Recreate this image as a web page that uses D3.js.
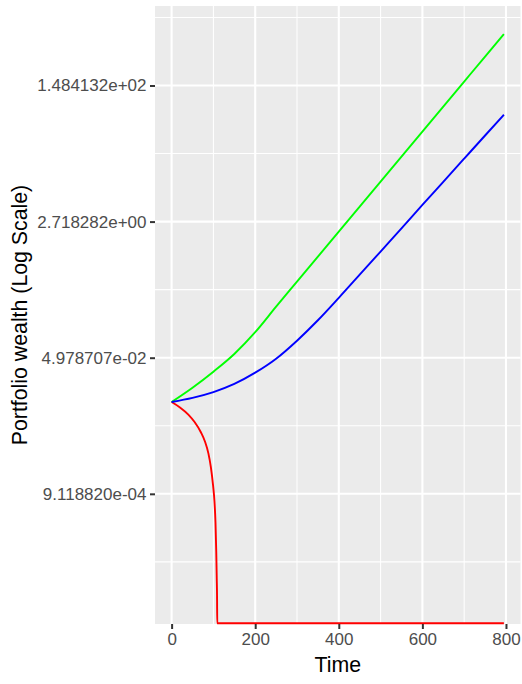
<!DOCTYPE html>
<html><head><meta charset="utf-8">
<script src="https://cdn.jsdelivr.net/npm/d3@7"></script>
<style>body{margin:0;background:#fff}text{font-family:"Liberation Sans",Arial,sans-serif}</style>
</head><body><svg id="c" width="522" height="684"></svg>
<script>
// ---- data ----
const greenTime   = [0, 50, 100, 150, 200, 250, 300, 350, 400, 450, 500, 550, 600, 650, 700, 750, 795];
const greenWealth = [0.013569, 0.020651, 0.033041, 0.055576, 0.10540, 0.22313, 0.46533, 0.97045, 2.02385, 4.22070, 8.80222, 18.3568, 38.2828, 79.838, 166.50, 347.24, 671.83];

const blueTime   = [0, 50, 100, 150, 200, 250, 300, 350, 400, 450, 500, 550, 600, 650, 700, 750, 795];
const blueWealth = [0.013569, 0.015299, 0.018134, 0.023052, 0.032065, 0.048316, 0.082085, 0.14957, 0.28938, 0.57121, 1.12750, 2.22554, 4.43710, 8.7583, 17.288, 34.124, 62.803];

const redTime   = [0, 20, 40, 55, 70, 80, 88, 94, 99, 102.5, 105, 106.8, 108, 108.7, 109.2, 795];
const redWealth = [0.013569, 0.011562, 0.0093725, 0.0075216, 0.0055720, 0.0042112, 0.0029975, 0.0019893, 0.0011945, 0.00073181, 0.00038975, 0.00016659, 0.000074852, 0.0000454, 0, 0];

const xTicks = [0, 200, 400, 600, 800];
const xMinor = [100, 300, 500, 700];
const yTicks = [9.118820e-04, 4.978707e-02, 2.718282e+00, 1.484132e+02];
const yTickLabels = ["9.118820e-04", "4.978707e-02", "2.718282e+00", "1.484132e+02"];
const yMinor = [1.234098e-04, 6.737947e-03, 3.678794e-01, 2.008554e+01, 1.096633e+03];

const xTitle = "Time";
const yTitle = "Portfolio wealth (Log Scale)";

const series = [
  {name: "red",   time: redTime,   wealth: redWealth,   color: "#FF0000"},
  {name: "green", time: greenTime, wealth: greenWealth, color: "#00FF00"},
  {name: "blue",  time: blueTime,  wealth: blueWealth,  color: "#0000FF"}
];

// ---- layout ----
const P = {left: 155, right: 520.5, top: 6, bottom: 624};
const svg = d3.select("#c");

const allT = series.flatMap(s => s.time);
const allW = series.flatMap(s => s.wealth).filter(v => v > 0);
const tMin = d3.min(allT), tMax = d3.max(allT), tPad = 0.05 * (tMax - tMin);
const lwMin = Math.log(d3.min(allW)), lwMax = Math.log(d3.max(allW)), lwPad = 0.05 * (lwMax - lwMin);

const x = d3.scaleLinear().domain([tMin - tPad, tMax + tPad]).range([P.left, P.right]);
const y = d3.scaleLog().base(Math.E).domain([Math.exp(lwMin - lwPad), Math.exp(lwMax + lwPad)]).range([P.bottom, P.top]);

// panel
svg.append("rect").attr("x", P.left).attr("y", P.top)
  .attr("width", P.right - P.left).attr("height", P.bottom - P.top).attr("fill", "#EBEBEB");

const grid = svg.append("g");
grid.selectAll(".ym").data(yMinor.filter(v => y(v) >= P.top && y(v) <= P.bottom)).join("line")
  .attr("x1", P.left).attr("x2", P.right).attr("y1", d => y(d)).attr("y2", d => y(d))
  .attr("stroke", "#fff").attr("stroke-width", 1.05);
grid.selectAll(".xm").data(xMinor).join("line")
  .attr("y1", P.top).attr("y2", P.bottom).attr("x1", d => x(d)).attr("x2", d => x(d))
  .attr("stroke", "#fff").attr("stroke-width", 1.05);
grid.selectAll(".yM").data(yTicks).join("line")
  .attr("x1", P.left).attr("x2", P.right).attr("y1", d => y(d)).attr("y2", d => y(d))
  .attr("stroke", "#fff").attr("stroke-width", 2.1);
grid.selectAll(".xM").data(xTicks).join("line")
  .attr("y1", P.top).attr("y2", P.bottom).attr("x1", d => x(d)).attr("x2", d => x(d))
  .attr("stroke", "#fff").attr("stroke-width", 2.1);

// lines
const yv = v => v > 0 ? y(v) : P.bottom - 0.7;   // zero wealth (-Inf on log scale) squished to panel edge
const line = d3.line().x(d => x(d[0])).y(d => yv(d[1])).curve(d3.curveMonotoneX);
const lg = svg.append("g");
series.forEach(s => {
  lg.append("path").datum(s.time.map((t, i) => [t, s.wealth[i]]))
    .attr("d", line).attr("fill", "none").attr("stroke", s.color)
    .attr("stroke-width", 1.9).attr("stroke-linejoin", "round");
});

// axes
const yAxis = d3.axisLeft(y).tickValues(yTicks).tickFormat((d, i) => yTickLabels[i]).tickSize(5).tickPadding(3.5);
const gy = svg.append("g").attr("transform", `translate(${P.left},0)`).call(yAxis);
const xAxis = d3.axisBottom(x).tickValues(xTicks).tickFormat(d3.format("d")).tickSize(5).tickPadding(4);
const gx = svg.append("g").attr("transform", `translate(0,${P.bottom})`).call(xAxis);
[gx, gy].forEach(g => {
  g.select(".domain").remove();
  g.selectAll(".tick line").attr("stroke", "#333333").attr("stroke-width", 2);
  g.selectAll(".tick text").attr("fill", "#4D4D4D").style("font-size", "17px")
    .style("font-family", '"Liberation Sans", Arial, sans-serif');
});

svg.append("text").attr("x", (P.left + P.right) / 2).attr("y", 671.5)
  .attr("text-anchor", "middle").attr("fill", "#000").style("font-size", "21.3px").text(xTitle);
svg.append("text").attr("transform", `translate(26.7,${(P.top + P.bottom) / 2}) rotate(-90)`)
  .attr("text-anchor", "middle").attr("fill", "#000").style("font-size", "21.3px").text(yTitle);
</script></body></html>
